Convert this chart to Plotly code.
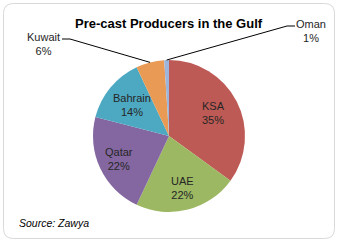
import math
import plotly.graph_objects as go

labels = ["KSA", "UAE", "Qatar", "Bahrain", "Kuwait", "Oman"]
values = [35, 22, 22, 14, 6, 1]
colors = ["#BE5A55", "#9CB862", "#8467A0", "#4DA9C2", "#E99A54", "#9DB5DA"]
title_text = "Pre-cast Producers in the Gulf"
source_text = "Source: Zawya"

W, H = 340, 242
CX, CY, R = 169, 136, 76
FONT = "Liberation Sans"
TXT = "#262626"

def px(x):
    return x / W

def py(y):
    return 1 - y / H

fig = go.Figure(go.Pie(
    labels=labels, values=values, textinfo="none",
    sort=False, direction="clockwise", rotation=0,
    marker=dict(colors=colors, line=dict(width=0)),
    domain=dict(x=[px(CX - R), px(CX + R)], y=[py(CY + R), py(CY - R)]),
    showlegend=False, hoverinfo="label+percent",
))

total = sum(values)
cum = 0
mids = {}
for l, v in zip(labels, values):
    mids[l] = (cum + v / 2) / total * 2 * math.pi
    cum += v

shapes = []
annotations = []

# inside labels along slice mid-angle
inside = {"KSA": 0.66, "UAE": 0.7, "Qatar": 0.72, "Bahrain": 0.64}
for l, f in inside.items():
    a = mids[l]
    v = values[labels.index(l)]
    annotations.append(dict(text=f"{l}<br>{v}%", x=px(CX + f * R * math.sin(a)),
                            y=py(CY - f * R * math.cos(a)),
                            xref="paper", yref="paper", showarrow=False,
                            xanchor="center", yanchor="middle",
                            font=dict(family=FONT, size=11, color=TXT)))

# outside labels with leader lines, tip computed from slice mid-angle
outside = {
    "Kuwait": dict(tx=43, ty=44, hx0=62, hx1=70, hy=39),
    "Oman": dict(tx=311, ty=31, hx0=295, hx1=287, hy=26),
}
for l, o in outside.items():
    a = mids[l]
    ex = CX + R * math.sin(a)
    ey = CY - R * math.cos(a)
    v = values[labels.index(l)]
    path = f"M {px(o['hx0'])},{py(o['hy'])} L {px(o['hx1'])},{py(o['hy'])} L {px(ex)},{py(ey)}"
    shapes.append(dict(type="path", xref="paper", yref="paper", path=path,
                       line=dict(color="#000000", width=1)))
    annotations.append(dict(text=f"{l}<br>{v}%", x=px(o["tx"]), y=py(o["ty"]),
                            xref="paper", yref="paper", showarrow=False,
                            xanchor="center", yanchor="middle",
                            font=dict(family=FONT, size=11, color=TXT)))

# rounded chart border
x0, y0, x1, y1, rr = 3.5, 3.5, 334.5, 238.5, 10
border = (f"M {px(x0+rr)},{py(y0)} L {px(x1-rr)},{py(y0)} Q {px(x1)},{py(y0)} {px(x1)},{py(y0+rr)} "
          f"L {px(x1)},{py(y1-rr)} Q {px(x1)},{py(y1)} {px(x1-rr)},{py(y1)} "
          f"L {px(x0+rr)},{py(y1)} Q {px(x0)},{py(y1)} {px(x0)},{py(y1-rr)} "
          f"L {px(x0)},{py(y0+rr)} Q {px(x0)},{py(y0)} {px(x0+rr)},{py(y0)} Z")
shapes.append(dict(type="path", xref="paper", yref="paper", path=border,
                   line=dict(color="#D9D9D9", width=1)))

annotations.append(dict(text=f"<b>{title_text}</b>", x=px(169), y=py(23),
                        xref="paper", yref="paper", showarrow=False,
                        xanchor="center", yanchor="middle",
                        font=dict(family=FONT, size=13, color="#000000")))
annotations.append(dict(text=f"<i>{source_text}</i>", x=px(17), y=py(223),
                        xref="paper", yref="paper", showarrow=False,
                        xanchor="left", yanchor="middle",
                        font=dict(family=FONT, size=10.5, color="#000000")))

fig.update_layout(
    width=W, height=H, margin=dict(l=0, r=0, t=0, b=0),
    paper_bgcolor="white", plot_bgcolor="white",
    shapes=shapes, annotations=annotations,
)
fig.write_html("out.html")
